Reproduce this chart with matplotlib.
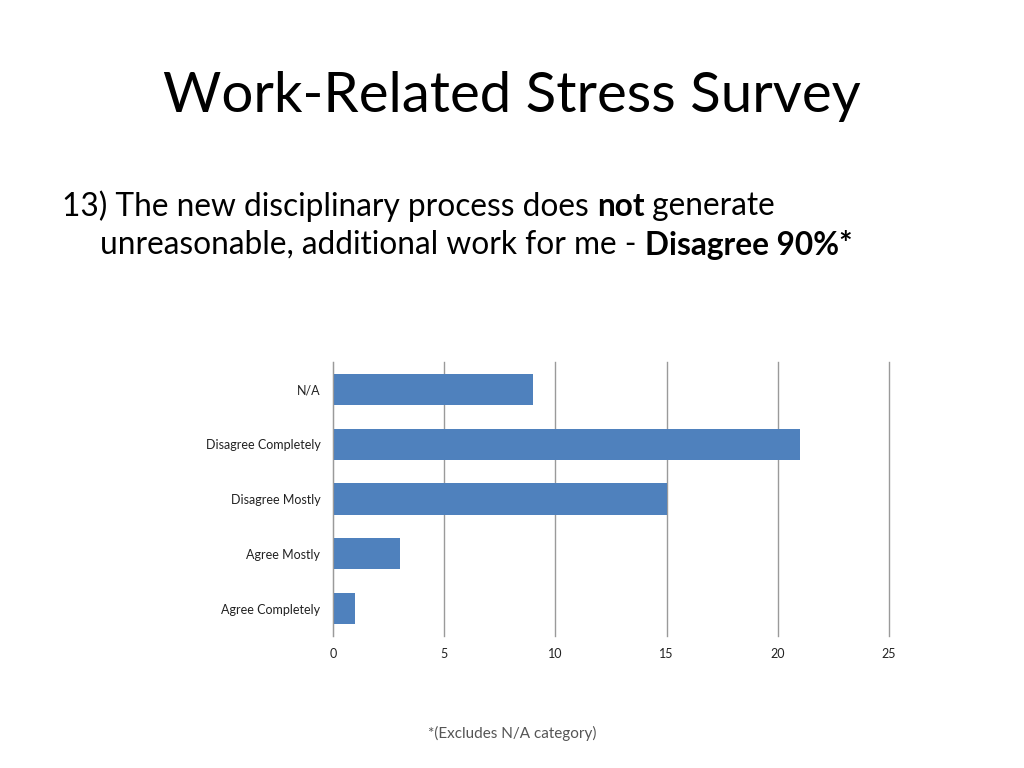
import matplotlib
matplotlib.use("Agg")
import matplotlib.pyplot as plt

categories = ["Agree Completely", "Agree Mostly", "Disagree Mostly", "Disagree Completely", "N/A"]
values = [1, 3, 15, 21, 9]
xticks = [0, 5, 10, 15, 20, 25]

FONT = ["Lato", "DejaVu Sans"]
plt.rcParams['font.family'] = FONT

fig = plt.figure(figsize=(10.24, 7.68), dpi=100)
ax = fig.add_axes([333/1024, 132/768, (889-333)/1024, (636-362)/768])

ax.barh(range(len(categories)), values, height=0.57, color="#4F81BD", zorder=3)
ax.set_yticks(range(len(categories)))
ax.set_yticklabels(categories, fontsize=9, color="#222222")
ax.set_xticks(xticks)
ax.set_xticklabels([str(t) for t in xticks], fontsize=9, color="#222222")
ax.set_xlim(0, 25)
ax.set_ylim(-0.5, len(categories) - 0.5)
ax.tick_params(axis='y', length=0, pad=9)
ax.tick_params(axis='x', length=0, pad=9)
ax.grid(axis='x', color="#9a9a9a", linewidth=1.0, zorder=0)
for gl in ax.get_xgridlines():
    gl.set_clip_on(False)
for s in ["top", "right", "bottom"]:
    ax.spines[s].set_visible(False)
ax.spines["left"].set_color("#9a9a9a")
ax.spines["left"].set_zorder(4)

fig.text(512/1024, 1 - 97/768, "Work-Related Stress Survey", ha="center", va="center",
         fontsize=40.6, color="#000000")

renderer = fig.canvas.get_renderer()

def seg_line(x_px, y_px, parts, size):
    x = x_px
    for txt, bold in parts:
        t = fig.text(x / 1024, 1 - y_px / 768, txt, ha="left", va="center",
                     fontsize=size, fontweight="bold" if bold else "normal")
        bb = t.get_window_extent(renderer=renderer)
        x += bb.width

seg_line(62, 206, [("13) The new disciplinary process does ", False), ("not", True),
                   (" generate", False)], 22.8)
seg_line(100, 245, [("unreasonable, additional work for me - ", False),
                    ("Disagree 90%*", True)], 22.8)

fig.text(512/1024, 1 - 733/768, "*(Excludes N/A category)", ha="center", va="center",
         fontsize=11, color="#555555")

fig.savefig("out.png", dpi=100)
